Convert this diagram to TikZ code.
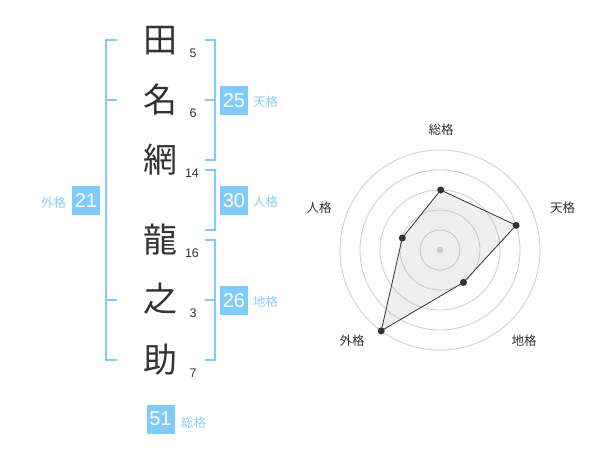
\documentclass[tikz,border=0pt]{standalone}
\usepackage{fontspec}
\setmainfont{Liberation Sans}
\newfontfamily\cjk{Noto Sans CJK JP}
\definecolor{blu}{HTML}{80CBF9}
\definecolor{blutext}{HTML}{8AD0F8}
\definecolor{ink}{HTML}{333333}
\definecolor{ring}{HTML}{CCCCCC}
\begin{document}
\begin{tikzpicture}[x=1pt,y=-1pt,
  kanji/.style={font=\cjk\fontsize{34}{34}\selectfont, text=ink, inner sep=0pt},
  stroke/.style={font=\fontsize{12.5}{12.5}\selectfont, text=ink, inner sep=0pt},
  numbox/.style={fill=blu, text=white, font=\fontsize{20}{20}\selectfont, minimum width=28pt, minimum height=29pt, inner sep=0pt},
  boxlabel/.style={font=\cjk\fontsize{12.5}{12.5}\selectfont, text=blutext, inner sep=0pt},
  bracket/.style={draw=blu, line width=2pt},
  axislabel/.style={font=\cjk\fontsize{12.5}{12.5}\selectfont, text=ink, inner sep=0pt},
  ringstyle/.style={draw=ring, line width=0.8pt},
  dot/.style={circle, fill=ink, minimum size=7pt, inner sep=0pt}]
\useasboundingbox (0,0) rectangle (600,470);
\fill[white] (0,0) rectangle (600,470);

% kanji
\node[kanji] (k1) at (160,41) {田};
\node[kanji] (k2) at (160,100) {名};
\node[kanji] (k3) at (160,160) {網};
\node[kanji] (k4) at (160,240) {龍};
\node[kanji] (k5) at (160,299) {之};
\node[kanji] (k6) at (160,360) {助};

% strokes
\node[stroke] (s1) at (193,53) {5};
\node[stroke] (s2) at (193,113) {6};
\node[stroke] (s3) at (192,173) {14};
\node[stroke] (s4) at (192,253) {16};
\node[stroke] (s5) at (193,313) {3};
\node[stroke] (s6) at (193,373) {7};

% brackets
\draw[bracket] (117,40) -- (106,40) -- (106,360) -- (117,360);
\draw[bracket] (106,100) -- (117,100);
\draw[bracket] (106,300) -- (117,300);
\draw[bracket] (205,40) -- (215,40) -- (215,160) -- (205,160);
\draw[bracket] (205,100) -- (215,100);
\draw[bracket] (205,170) -- (215,170) -- (215,230) -- (205,230);
\draw[bracket] (205,240) -- (215,240) -- (215,360) -- (205,360);
\draw[bracket] (205,300) -- (215,300);

% boxes
\node[numbox] (b1) at (234,100.5) {25};
\node[boxlabel] (t1) at (265.5,101.5) {天格};
\node[numbox] (b2) at (234,200.5) {30};
\node[boxlabel] (t2) at (265.5,202) {人格};
\node[numbox] (b3) at (234,300.5) {26};
\node[boxlabel] (t3) at (265.5,302) {地格};
\node[numbox] (b4) at (86,201) {21};
\node[boxlabel] (t4) at (53.5,203) {外格};
\node[numbox] (b5) at (160.5,419) {51};
\node[boxlabel] (t5) at (193.5,423) {総格};

% radar
\coordinate (C) at (440,250);
\foreach \r in {20,40,60,80,100} \draw[ringstyle] (C) circle[radius=\r];
\fill[ring!90!white] (C) circle[radius=3.2pt];
\coordinate (pS) at (440.7,190);
\coordinate (pT) at (516.1,225.3);
\coordinate (pC) at (463.5,282.4);
\coordinate (pG) at (381.2,330.9);
\coordinate (pJ) at (402.3,238);
\filldraw[fill=black!40, fill opacity=0.15, draw=ink, line width=0.8pt] (pS) -- (pT) -- (pC) -- (pG) -- (pJ) -- cycle;
\foreach \p in {pS,pT,pC,pG,pJ} \node[dot] (d\p) at (\p) {};

\node[axislabel] (aS) at (441,130) {総格};
\node[axislabel] (aT) at (562.5,208) {天格};
\node[axislabel] (aC) at (524,341) {地格};
\node[axislabel] (aG) at (352,341) {外格};
\node[axislabel] (aJ) at (319,208) {人格};
\end{tikzpicture}
\end{document}
